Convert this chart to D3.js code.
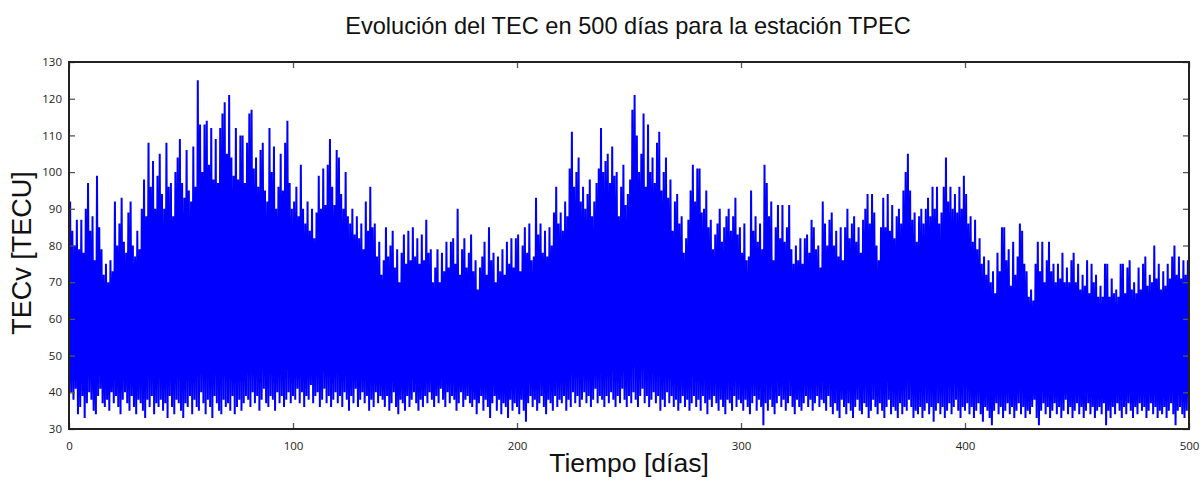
<!DOCTYPE html>
<html>
<head>
<meta charset="utf-8">
<script src="https://d3js.org/d3.v7.min.js"></script>
<style>
  body { margin: 0; background: #fff; }
  .tick text { font-family: "Open Sans", sans-serif; font-size: 11.5px; fill: #222; }
</style>
</head>
<body>
<script>
// daily maximum of TECv (TECU), one value per day
const dailyMax = [
  92,84,80,87,79,87,78,90,97,84,88,76,99,85,79,72,75,70,76,73,
  92,80,86,93,81,78,89,92,80,77,84,79,90,98,88,108,96,103,90,99,
  105,94,90,108,96,97,88,100,104,109,97,93,106,95,92,107,96,125,113,100,
  113,114,102,112,98,109,97,112,116,119,105,121,104,99,112,98,110,110,97,108,
  116,117,101,104,96,106,108,95,92,112,100,107,90,96,105,95,108,114,97,90,
  92,96,88,102,90,86,92,84,90,82,89,99,90,101,91,102,109,96,91,106,
  104,94,90,100,88,86,90,83,88,82,86,79,92,84,96,85,86,77,81,72,
  76,85,77,80,84,74,79,70,78,83,75,84,76,85,77,82,75,83,76,87,
  78,79,70,74,79,70,78,73,81,74,81,82,75,90,72,79,82,74,78,83,
  73,76,68,74,77,81,72,85,76,78,70,77,73,79,72,81,75,82,74,82,
  83,73,80,85,78,86,76,77,93,83,86,78,84,77,85,80,89,96,86,89,
  84,92,88,101,111,96,100,104,92,96,90,94,98,88,92,97,101,112,100,103,
  105,97,107,99,100,88,96,102,91,94,98,117,121,110,100,105,116,96,113,100,
  104,97,108,111,95,100,104,93,98,84,92,94,86,88,78,82,87,95,102,92,
  101,101,89,90,95,85,87,79,83,86,90,81,85,88,90,84,88,93,83,85,
  78,86,76,77,95,84,88,81,86,79,102,97,88,92,76,85,91,82,91,81,
  85,91,79,75,80,76,82,75,82,83,78,87,85,79,80,74,92,86,80,87,
  89,80,84,77,85,76,85,90,82,86,88,81,85,78,87,90,94,86,94,89,
  80,76,85,93,85,94,84,91,82,88,90,86,95,100,105,95,87,89,81,88,
  90,86,90,93,88,96,90,96,86,89,96,104,92,96,90,94,89,96,90,99,
  94,86,88,81,87,79,82,75,77,72,76,70,73,67,78,73,85,85,76,79,
  69,81,72,77,86,84,75,73,66,68,65,75,81,73,81,70,76,81,73,75,
  70,75,71,78,70,74,70,76,78,70,75,68,72,69,76,67,75,70,72,66,
  69,66,75,75,66,71,67,68,66,75,75,67,74,76,68,70,67,74,68,75,
  77,69,72,70,80,71,75,68,73,69,75,71,77,80,72,77,71,76,72,76
];

// daily minimum of TECv (TECU)
const dailyMin = [
  35,40,38,41,34,36,39,33,37,40,38,35,34,39,41,37,36,38,35,40,
  37,39,36,34,38,40,37,35,39,36,34,38,37,35,33,38,36,39,34,37,
  36,38,35,37,33,39,36,34,38,37,35,33,37,36,39,34,38,36,35,40,
  37,34,38,36,33,39,37,35,34,38,36,37,35,39,34,36,38,35,37,39,
  38,36,40,37,39,35,38,41,37,36,39,38,35,40,37,39,36,38,40,37,
  39,38,41,37,40,36,39,38,42,37,39,40,36,38,41,37,39,36,38,40,
  37,39,36,40,38,35,39,37,41,36,38,40,37,39,35,38,36,40,37,39,
  38,36,39,35,37,40,36,34,38,37,35,39,36,38,40,37,35,38,36,39,
  37,40,38,36,39,37,41,38,36,40,37,39,38,35,37,40,36,38,39,37,
  36,38,34,37,39,35,38,36,33,37,39,35,38,34,37,36,33,38,35,37,
  36,34,38,35,32,37,39,36,38,35,37,39,36,34,38,37,35,39,36,38,
  37,39,35,38,36,40,37,39,36,38,40,37,39,36,38,41,37,39,38,36,
  39,37,40,38,36,39,37,41,38,36,39,37,40,38,36,39,41,37,39,36,
  38,40,37,39,35,38,36,40,37,39,36,38,35,37,39,36,38,35,37,39,
  36,38,35,39,37,34,38,36,39,37,35,38,36,34,38,37,35,39,36,38,
  37,35,38,36,34,37,39,35,38,36,31,37,35,38,36,34,37,39,36,38,
  35,37,39,36,34,38,36,35,37,39,36,38,35,37,39,36,38,37,35,39,
  36,34,37,35,33,38,36,34,37,35,33,36,38,35,34,37,36,33,35,38,
  36,34,37,35,33,36,38,34,36,35,33,37,34,36,35,38,36,33,35,34,
  36,33,35,37,34,36,32,35,37,34,36,33,35,37,34,36,38,35,33,36,
  35,37,34,36,33,35,37,34,32,36,35,33,31,35,37,34,36,33,35,37,
  34,36,33,35,37,34,36,33,35,34,36,38,33,31,35,37,34,36,33,35,
  37,34,36,33,35,38,34,36,33,35,37,34,36,33,35,37,34,36,33,35,
  36,34,37,31,35,33,36,34,37,35,33,36,34,37,35,33,36,34,37,35,
  36,33,35,37,34,36,33,35,34,36,33,35,37,34,31,35,36,34,33,35
];

const xTicks = [0, 100, 200, 300, 400, 500];
const yTicks = [30, 40, 50, 60, 70, 80, 90, 100, 110, 120, 130];

const W = 1203, H = 485;
const margin = {top: 62, right: 14, bottom: 56, left: 69};
const pw = W - margin.left - margin.right;
const ph = H - margin.top - margin.bottom;

const svg = d3.select("body").append("svg")
  .attr("width", W).attr("height", H);

const x = d3.scaleLinear().domain([0, 500]).range([0, pw]);
const y = d3.scaleLinear().domain([30, 130]).range([ph, 0]);

const g = svg.append("g").attr("transform", `translate(${margin.left},${margin.top})`);

// night minimum at the start of each day, afternoon peak in the middle
const pts = [];
dailyMax.forEach((mx, i) => {
  pts.push([i, dailyMin[i]]);
  pts.push([i + 0.5, mx]);
});
pts.push([500, dailyMin[dailyMin.length - 1]]);

g.append("clipPath").attr("id", "clip")
  .append("rect").attr("width", pw).attr("height", ph);

const line = d3.line().x(d => x(d[0])).y(d => y(d[1]));

g.append("path")
  .datum(pts)
  .attr("clip-path", "url(#clip)")
  .attr("d", line)
  .attr("fill", "none")
  .attr("stroke", "#0000ff")
  .attr("stroke-width", 2)
  .attr("stroke-linejoin", "bevel");

// axes, ticks pointing inward on every side
g.append("g").attr("transform", `translate(0,${ph})`)
  .call(d3.axisBottom(x).tickValues(xTicks).tickSizeInner(-6).tickSizeOuter(0).tickPadding(13));
g.append("g")
  .call(d3.axisLeft(y).tickValues(yTicks).tickSizeInner(-6).tickSizeOuter(0).tickPadding(7));
g.append("g")
  .call(d3.axisTop(x).tickValues(xTicks).tickSizeInner(-6).tickSizeOuter(0).tickFormat(""));
g.append("g").attr("transform", `translate(${pw},0)`)
  .call(d3.axisRight(y).tickValues(yTicks).tickSizeInner(-6).tickSizeOuter(0).tickFormat(""));

g.selectAll(".domain").remove();
g.selectAll(".tick line").attr("stroke", "#555").attr("stroke-width", 1.3);

g.append("rect")
  .attr("width", pw).attr("height", ph)
  .attr("fill", "none").attr("stroke", "#222").attr("stroke-width", 2);

svg.append("text")
  .attr("x", 628).attr("y", 34)
  .attr("text-anchor", "middle")
  .style("font-family", "'Liberation Sans', Arial, sans-serif")
  .style("font-size", "23.6px").style("fill", "#111")
  .text("Evolución del TEC en 500 días para la estación TPEC");

svg.append("text")
  .attr("x", margin.left + pw / 2).attr("y", 472)
  .attr("text-anchor", "middle")
  .style("font-family", "'Liberation Sans', Arial, sans-serif")
  .style("font-size", "26.5px").style("fill", "#111")
  .text("Tiempo [días]");

svg.append("text")
  .attr("transform", "translate(31,253) rotate(-90)")
  .attr("text-anchor", "middle")
  .style("font-family", "'Liberation Sans', Arial, sans-serif")
  .style("font-size", "27px").style("fill", "#111")
  .text("TECv [TECU]");
</script>
</body>
</html>
